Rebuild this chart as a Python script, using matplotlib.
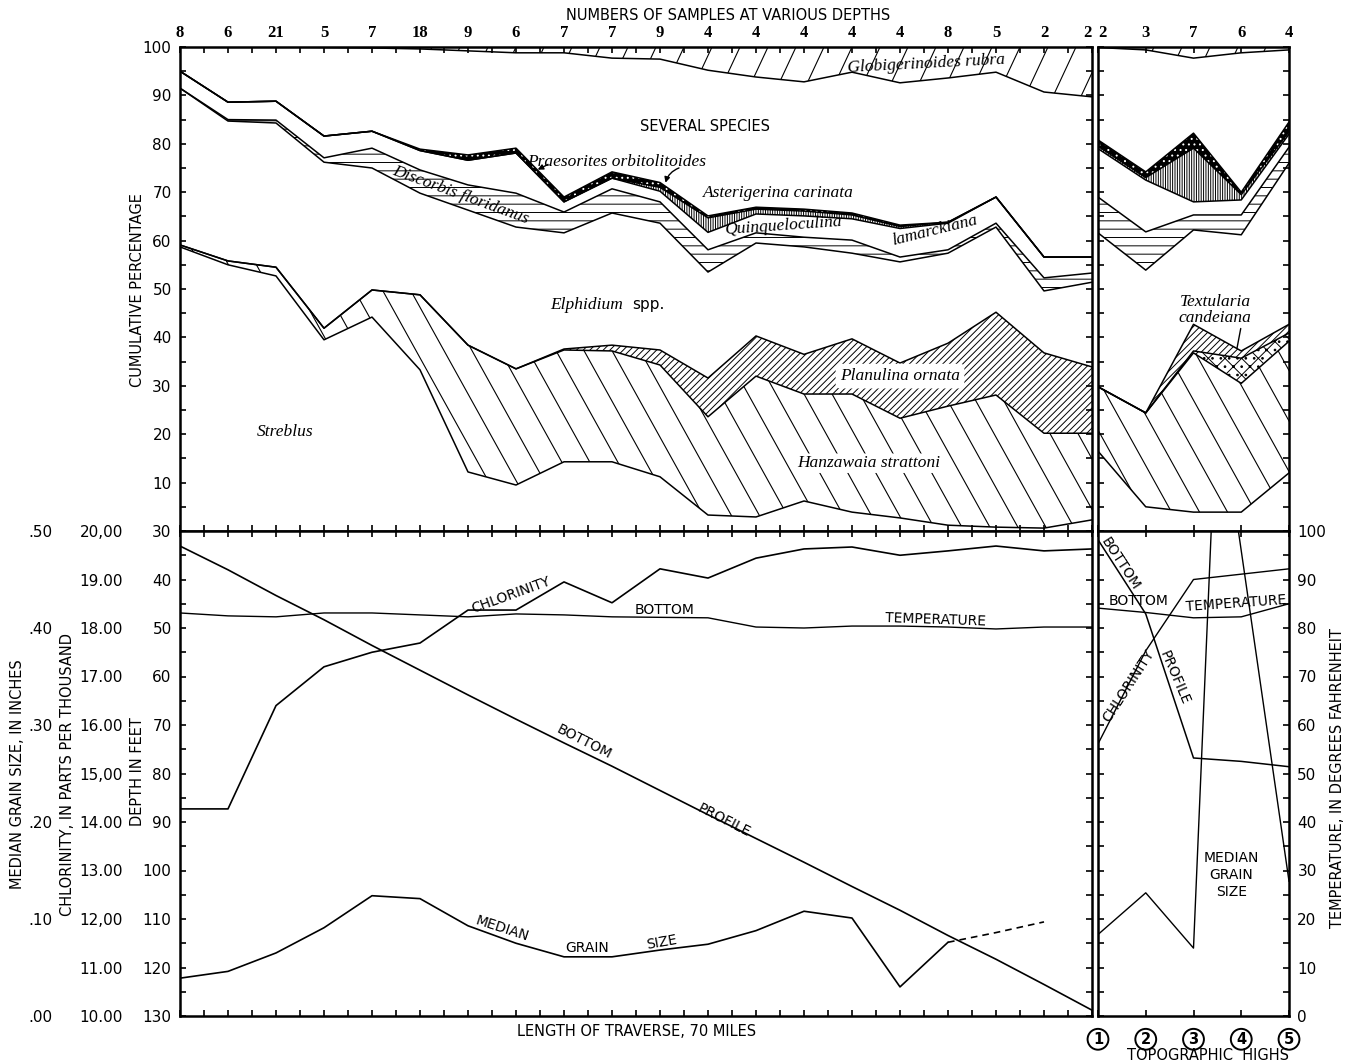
import numpy as np
import matplotlib
matplotlib.use("Agg")
import matplotlib.pyplot as plt
from matplotlib.ticker import MultipleLocator
from matplotlib.transforms import blended_transform_factory

# ---------------- data ----------------
samples_traverse = [8, 6, 21, 5, 7, 18, 9, 6, 7, 7, 9, 4, 4, 4, 4, 4, 8, 5, 2, 2]
samples_highs = [2, 3, 7, 6, 4]
traverse = np.arange(len(samples_traverse))
highs = np.arange(len(samples_highs))

# cumulative percentage at the top of each group (traverse stations)
streblus_t = [58.7, 55.0, 52.7, 39.5, 44.2, 33.3, 12.2, 9.5, 14.3, 14.3, 11.2, 3.3, 2.9, 6.2, 3.9, 2.7, 1.2, 0.8, 0.6, 2.3]
hanzawaia_t = [59.1, 55.8, 54.5, 41.9, 49.8, 48.8, 38.4, 33.5, 37.4, 37.2, 34.3, 23.6, 32.0, 28.3, 28.3, 23.3, 25.8, 28.1, 20.2, 20.2]
planulina_t = [59.1, 55.8, 54.5, 41.9, 49.8, 48.8, 38.4, 33.5, 37.6, 38.4, 37.4, 31.6, 40.3, 36.5, 39.7, 34.7, 38.8, 45.2, 36.8, 33.9]
elphidium_t = [91.5, 84.7, 84.3, 76.2, 75.0, 69.8, 66.3, 62.8, 61.6, 65.7, 63.6, 53.5, 59.5, 58.7, 57.4, 55.6, 57.4, 62.8, 49.6, 51.4]
discorbis_t = [91.5, 85.0, 84.9, 77.1, 79.1, 74.6, 71.5, 69.8, 65.9, 70.7, 68.0, 58.1, 61.6, 60.7, 60.1, 56.6, 58.1, 63.6, 52.3, 53.3]
quinq_t = [95.0, 88.6, 88.8, 81.6, 82.6, 78.6, 76.6, 78.1, 68.0, 72.9, 70.2, 61.7, 65.5, 65.1, 64.5, 62.5, 63.6, 69.0, 56.6, 56.6]
asterig_t = [95.0, 88.6, 88.8, 81.6, 82.6, 78.6, 76.6, 78.1, 68.0, 72.9, 71.0, 64.7, 66.5, 66.1, 65.3, 62.9, 63.8, 69.0, 56.6, 56.6]
praesor_t = [95.0, 88.6, 88.8, 81.6, 82.6, 78.9, 77.7, 79.1, 69.0, 74.2, 72.0, 65.1, 66.9, 66.5, 65.7, 63.2, 63.8, 69.0, 56.6, 56.6]
several_t = [100, 100, 100, 99.9, 99.8, 99.6, 99.2, 98.8, 98.8, 97.7, 97.5, 95.2, 93.8, 92.8, 94.8, 92.6, 93.6, 94.8, 90.7, 89.7]

# cumulative percentage, topographic highs
streblus_h = [16.5, 5.0, 3.9, 3.9, 12.0]
hanzawaia_h = [29.8, 24.4, 36.8, 30.5, 39.2]
textularia_h = [29.8, 24.4, 37.2, 35.7, 40.9]
planulina_h = [29.8, 24.4, 42.7, 37.2, 42.7]
elphidium_h = [61.6, 53.9, 62.2, 61.2, 76.0]
discorbis_h = [69.0, 61.8, 65.3, 65.3, 79.3]
quinq_h = [79.0, 72.5, 68.0, 68.4, 82.0]
asterig_h = [79.5, 73.0, 79.1, 69.5, 82.5]
praesor_h = [80.8, 74.2, 82.2, 70.0, 84.5]
several_h = [99.9, 99.4, 97.7, 98.8, 99.4]

# physical measurements along the traverse
depth_t = [33.1, 38.0, 43.3, 48.3, 53.6, 58.7, 63.8, 68.8, 73.7, 78.5, 83.5, 88.5, 93.4, 98.3, 103.3, 108.2, 113.4, 118.3, 123.5, 128.8]
chlor_t = [14.27, 14.27, 16.4, 17.2, 17.5, 17.69, 18.37, 18.37, 18.95, 18.52, 19.22, 19.03, 19.44, 19.63, 19.67, 19.5, 19.59, 19.69, 19.59, 19.63]
temp_t = [83.1, 82.5, 82.3, 83.1, 83.1, 82.7, 82.3, 82.9, 82.7, 82.3, 82.2, 82.1, 80.2, 80.0, 80.4, 80.4, 80.2, 79.8, 80.2, 80.2]
grain_t = [0.039, 0.046, 0.065, 0.091, 0.124, 0.121, 0.093, 0.075, 0.061, 0.061, 0.068, 0.074, 0.088, 0.108, 0.101, 0.030, 0.076]
grain_est_x = [16, 17, 18]
grain_est = [0.076, 0.086, 0.097]

# physical measurements over the topographic highs
depth_h = [31.8, 47.1, 76.8, 77.5, 78.6]
chlor_h = [15.61, 17.53, 19.0, 19.11, 19.22]
temp_h = [84.1, 83.2, 82.1, 82.3, 85.0]
grain_h_x = [0, 1, 2, 2.5, 4]
grain_h = [0.084, 0.127, 0.070, 0.65, 0.139]

pct_labels = ['', '10', '20', '30', '40', '50', '60', '70', '80', '90', '100']
depth_labels = ['30', '40', '50', '60', '70', '80', '90', '100', '110', '120', '130']
chlor_labels = ['10.00', '11.00', '12,00', '13.00', '14.00', '15,00', '16.00', '17.00', '18.00', '19.00', '20,00']
grain_labels = ['.00', '.10', '.20', '.30', '.40', '.50']
temp_labels = ['0', '10', '20', '30', '40', '50', '60', '70', '80', '90', '100']

# ---------------- figure ----------------
W, H = 1350, 1064
SANS = 'DejaVu Sans'
SERIF = 'Liberation Serif'
plt.rcParams['hatch.linewidth'] = 0.7
plt.rcParams['font.family'] = SANS

fig = plt.figure(figsize=(W / 100, H / 100), dpi=100)


def px_rect(x0, y0, x1, y1):
    return [x0 / W, 1 - y1 / H, (x1 - x0) / W, (y1 - y0) / H]


ax_t = fig.add_axes(px_rect(180, 47, 1092, 531))
ax_b = fig.add_axes(px_rect(180, 531, 1092, 1016))
ax_ht = fig.add_axes(px_rect(1098, 47, 1289, 531))
ax_hb = fig.add_axes(px_rect(1098, 531, 1289, 1016))


def slant_hatch(ax, x, lo, hi, angle, spacing=28, lw=0.8):
    band = ax.fill_between(x, lo, hi, facecolor='white', edgecolor='none', lw=0)
    path = band.get_paths()[0]
    pos = ax.get_position()
    w, h = pos.width * W, pos.height * H
    run = h / np.tan(np.radians(abs(angle)))
    for x0 in np.arange(-run, w + run, spacing):
        xs = [x0, x0 + run] if angle > 0 else [x0 + run, x0]
        ln, = ax.plot(np.array(xs) / w, [0, 1], transform=ax.transAxes, color='k', lw=lw)
        ln.set_clip_path(path, ax.transData)


def hatch_fill(ax, x, lo, hi, hatch, face='white', hc='k'):
    ax.fill_between(x, lo, hi, facecolor=face, edgecolor=hc, hatch=hatch, lw=0)


def draw_columns(ax, x, layers):
    (strb, hanz, text, plan, elph, disc, quin, aste, prae, sev) = layers
    slant_hatch(ax, x, strb, hanz, -61)
    if text is not None:
        hatch_fill(ax, x, hanz, text, 'xx..')
        hatch_fill(ax, x, text, plan, '/////')
    else:
        hatch_fill(ax, x, hanz, plan, '/////')
    hatch_fill(ax, x, elph, disc, '--')
    hatch_fill(ax, x, quin, aste, '|||||||')
    hatch_fill(ax, x, aste, prae, '...', face='k', hc='w')
    slant_hatch(ax, x, sev, [100] * len(x), 65)
    for b in layers:
        if b is not None:
            ax.plot(x, b, color='k', lw=1.1)


draw_columns(ax_t, traverse, (streblus_t, hanzawaia_t, None, planulina_t, elphidium_t,
                              discorbis_t, quinq_t, asterig_t, praesor_t, several_t))
draw_columns(ax_ht, highs, (streblus_h, hanzawaia_h, textularia_h, planulina_h, elphidium_h,
                            discorbis_h, quinq_h, asterig_h, praesor_h, several_h))

# ---- lower panels: twin scales ----
def twin(ax, lo, hi):
    t = ax.twinx()
    t.set_ylim(lo, hi)
    for s in t.spines.values():
        s.set_visible(False)
    t.tick_params(right=False, labelright=False)
    return t


b_temp = twin(ax_b, 0, 100)
b_chl = twin(ax_b, 10, 20)
b_gr = twin(ax_b, 0, 0.5)
h_temp = twin(ax_hb, 0, 100)
h_chl = twin(ax_hb, 10, 20)
h_gr = twin(ax_hb, 0, 0.5)

ax_b.plot(traverse, depth_t, color='k', lw=1.2)
b_chl.plot(traverse, chlor_t, color='k', lw=1.2)
b_temp.plot(traverse, temp_t, color='k', lw=1.0)
b_gr.plot(traverse[:len(grain_t)], grain_t, color='k', lw=1.2)
b_gr.plot(grain_est_x, grain_est, color='k', lw=1.2, ls=(0, (4, 3)))

ax_hb.plot(highs, depth_h, color='k', lw=1.1)
h_chl.plot(highs, chlor_h, color='k', lw=1.0)
h_temp.plot(highs, temp_h, color='k', lw=1.0)
h_gr.plot(grain_h_x, grain_h, color='k', lw=1.0)

# left-hand scales of the lower panel
for tw, lo, hi, labels, off in ((b_chl, 10, 20, chlor_labels, 38),
                                (b_gr, 0, 0.5, grain_labels, 89)):
    tw.yaxis.tick_left()
    tw.spines['left'].set_position(('outward', off))
    tw.set_yticks(np.linspace(lo, hi, len(labels)))
    tw.set_yticklabels(labels)
    tw.tick_params(axis='y', left=True, labelleft=True, length=0, pad=3, labelsize=11)

# temperature scale on the far right
h_temp.set_yticks(np.arange(0, 101, 10))
h_temp.set_yticklabels(temp_labels)
h_temp.yaxis.set_minor_locator(MultipleLocator(5))
h_temp.tick_params(axis='y', which='both', right=True, labelright=True, direction='in',
                   length=4.5, width=1.2, pad=6, labelsize=11)

# ---- limits, ticks, spines ----
for ax in (ax_t, ax_b, ax_ht, ax_hb):
    for s in ax.spines.values():
        s.set_linewidth(1.8)
    ax.tick_params(which='both', direction='in', length=4.5, width=1.2,
                   top=True, bottom=True, left=True, right=True,
                   labelbottom=False, labelleft=False, labeltop=False)
    ax.yaxis.set_minor_locator(MultipleLocator(5))

ax_t.set_xlim(0, 19)
ax_b.set_xlim(0, 19)
ax_ht.set_xlim(0, 4)
ax_hb.set_xlim(0, 4)
ax_t.set_ylim(0, 100)
ax_ht.set_ylim(0, 100)
ax_b.set_ylim(130, 30)
ax_hb.set_ylim(130, 30)

ax_t.set_xticks(traverse)
ax_t.set_xticklabels([str(n) for n in samples_traverse])
ax_t.xaxis.set_minor_locator(MultipleLocator(0.5))
ax_t.tick_params(axis='x', labeltop=True, pad=4)
ax_t.set_yticks(np.arange(0, 101, 10))
ax_t.set_yticklabels(pct_labels)
ax_t.tick_params(axis='y', labelleft=True, labelsize=11, pad=6)

ax_b.xaxis.set_major_locator(MultipleLocator(0.5))
ax_b.set_xticklabels([])
ax_b.set_yticks(np.arange(30, 131, 10))
ax_b.set_yticklabels(depth_labels)
ax_b.tick_params(axis='y', labelleft=True, labelsize=11, pad=6)

ax_ht.set_xticks(highs)
ax_ht.set_xticklabels([str(n) for n in samples_highs])
ax_ht.tick_params(axis='x', labeltop=True, pad=4)
ax_ht.set_yticks(np.arange(0, 101, 10))
ax_ht.set_yticklabels([])
ax_hb.set_xticks(highs)
ax_hb.set_xticklabels([])
ax_hb.set_yticks(np.arange(30, 131, 10))
ax_hb.set_yticklabels([])
ax_hb.tick_params(axis='y', right=False, which='both')

for lab in ax_t.get_xticklabels() + ax_ht.get_xticklabels():
    lab.set_fontfamily(SERIF)
    lab.set_fontweight('bold')
    lab.set_fontsize(12)
ax_t.get_xticklabels()[-1].set_horizontalalignment('right')
ax_ht.get_xticklabels()[0].set_horizontalalignment('left')

# ---- species labels ----
it = dict(family=SERIF, style='italic', fontsize=12.5, ha='center', va='center')
ax_t.text(10.94, 83.5, 'SEVERAL SPECIES', family=SANS, fontsize=10.5, ha='center', va='center')
ax_t.text(15.55, 96.6, 'Globigerinoides rubra', rotation=3, **it)
ax_t.text(9.1, 76.2, 'Praesorites orbitolitoides', **it)
ax_t.annotate('', xy=(7.4, 74.4), xytext=(7.72, 76.0),
              arrowprops=dict(arrowstyle='-|>', color='k', lw=1, mutation_scale=8))
ax_t.annotate('', xy=(10.1, 71.4), xytext=(10.45, 75.2),
              arrowprops=dict(arrowstyle='-|>', color='k', lw=1, mutation_scale=8,
                              connectionstyle='arc3,rad=0.3'))
ax_t.text(12.46, 69.8, 'Asterigerina carinata', **it)
ax_t.text(5.85, 69.4, 'Discorbis floridanus', rotation=-20, **it)
ax_t.text(12.56, 63.0, 'Quinqueloculina', rotation=4, **it)
ax_t.text(15.73, 62.0, 'lamarckiana', rotation=14, **it)
ax_t.text(8.46, 46.7, 'Elphidium', **it)
ax_t.text(9.75, 46.9, 'spp.', family=SANS, fontsize=11, ha='center', va='center')
ax_t.text(2.19, 20.5, 'Streblus', **it)
ax_t.text(15.0, 32.0, 'Planulina ornata',
          bbox=dict(boxstyle='round,pad=0.25', fc='white', ec='none'), **it)
ax_t.text(14.35, 14.0, 'Hanzawaia strattoni',
          bbox=dict(boxstyle='round,pad=0.1', fc='white', ec='none'), **it)
ax_ht.text(2.45, 45.7, 'Textularia\ncandeiana', linespacing=0.95, **it)
ax_ht.annotate('', xy=(2.9, 37.2), xytext=(3.0, 42.4),
               arrowprops=dict(arrowstyle='-', color='k', lw=1))

# ---- lower panel labels ----
sm = dict(family=SANS, fontsize=10, ha='center', va='center')
ax_b.text(6.9, 43.2, 'CHLORINITY', rotation=20, **sm)
ax_b.text(10.1, 46.2, 'BOTTOM', **sm)
ax_b.text(15.75, 48.3, 'TEMPERATURE', rotation=-2, **sm)
ax_b.text(8.42, 73.6, 'BOTTOM', rotation=-27, **sm)
ax_b.text(11.33, 89.6, 'PROFILE', rotation=-27, **sm)
ax_b.text(6.71, 112.0, 'MEDIAN', rotation=-18, **sm)
ax_b.text(8.48, 116.0, 'GRAIN', **sm)
ax_b.text(10.04, 114.8, 'SIZE', rotation=10, **sm)

ax_hb.text(0.46, 36.8, 'BOTTOM', rotation=-57, **sm)
ax_hb.text(0.84, 44.4, 'BOTTOM', **sm)
ax_hb.text(2.89, 44.9, 'TEMPERATURE', rotation=4, **sm)
ax_hb.text(0.63, 62.0, 'CHLORINITY', rotation=57, **sm)
ax_hb.text(1.61, 60.3, 'PROFILE', rotation=-67, **sm)
ax_hb.text(2.79, 100.9, 'MEDIAN\nGRAIN\nSIZE', linespacing=1.25, **sm)

trans = blended_transform_factory(ax_hb.transData, ax_hb.transAxes)
for i in highs:
    ax_hb.text(i, -0.048, str(i + 1), transform=trans, ha='center', va='center',
               fontsize=10.5, fontweight='bold',
               bbox=dict(boxstyle='circle,pad=0.2', fc='white', ec='k', lw=1.4))

# ---- axis titles ----
ft = dict(family=SANS, fontsize=10.5, ha='center', va='center')
fig.text(728 / W, 1 - 15 / H, 'NUMBERS OF SAMPLES AT VARIOUS DEPTHS', **ft)
fig.text(637 / W, 1 - 1032 / H, 'LENGTH OF TRAVERSE, 70 MILES', **ft)
fig.text(1208 / W, 1 - 1056 / H, 'TOPOGRAPHIC  HIGHS', **ft)
fig.text(137 / W, 1 - 290 / H, 'CUMULATIVE PERCENTAGE', rotation=90, **ft)
fig.text(137 / W, 1 - 772 / H, 'DEPTH IN FEET', rotation=90, **ft)
fig.text(68 / W, 1 - 774 / H, 'CHLORINITY, IN PARTS PER THOUSAND', rotation=90, **ft)
fig.text(18 / W, 1 - 774 / H, 'MEDIAN GRAIN SIZE, IN INCHES', rotation=90, **ft)
fig.text(1338 / W, 1 - 778 / H, 'TEMPERATURE, IN DEGREES FAHRENHEIT', rotation=90, **ft)

fig.savefig('out.png', dpi=100)
